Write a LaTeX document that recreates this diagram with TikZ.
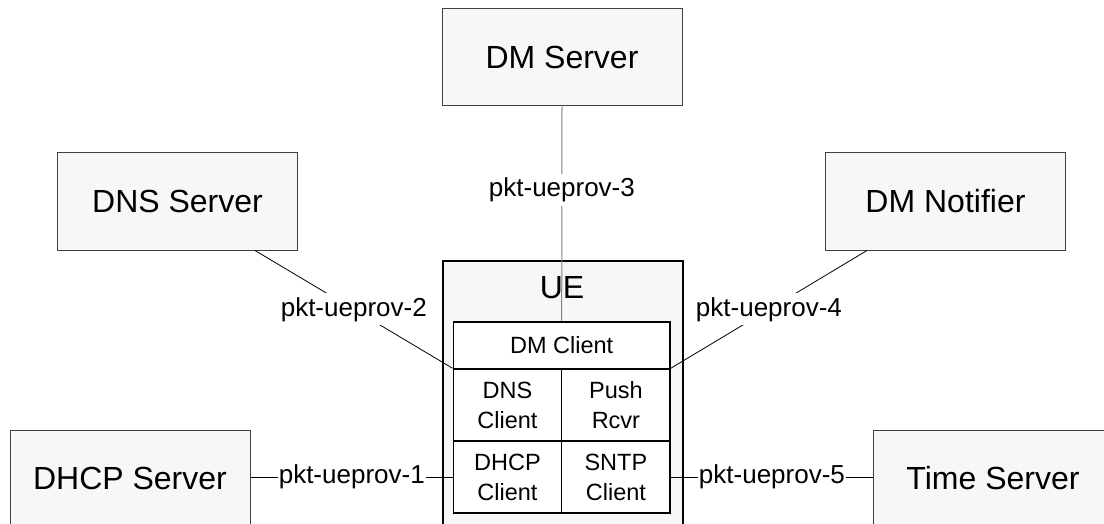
\documentclass[tikz,border=0pt]{standalone}
\usepackage{fontspec}
\setmainfont{Liberation Sans}
\definecolor{boxfill}{HTML}{F7F7F7}
\definecolor{boxline}{HTML}{404040}
\definecolor{vline}{HTML}{808080}
\begin{document}
\begin{tikzpicture}[x=1pt,y=-1pt,
  server/.style={draw=boxline,line width=1pt,fill=boxfill,minimum width=240pt,minimum height=97pt,inner sep=0pt,font=\fontsize{32}{38}\selectfont},
  uebox/.style={draw=black,line width=1.5pt,fill=boxfill,minimum width=240pt,minimum height=270pt,inner sep=0pt},
  part/.style={draw=black,line width=1.5pt,fill=white,inner sep=0pt,align=center,font=\fontsize{23.5}{30}\selectfont},
  link/.style={draw=black,line width=0.8pt},
  lbl/.style={fill=white,inner xsep=1pt,inner ysep=4pt,font=\fontsize{26}{30}\selectfont}]
\useasboundingbox (0,0) rectangle (1104,524);
\clip (0,0) rectangle (1104,524);
\fill[white] (0,0) rectangle (1104,524);
% servers
\node[server] (dms) at (562,57.5) {DM Server};
\node[server] (dnss) at (177.5,201.5) {DNS Server};
\node[server] (dmn) at (945.5,201.5) {DM Notifier};
\node[server,anchor=north west] (dhcps) at (10,430) {};
\node at (130,478.5) [font=\fontsize{32}{38}\selectfont] (dhcpst) {DHCP Server};
\node[server,anchor=north west] (times) at (873,430) {};
\node at (993,478.5) [font=\fontsize{32}{38}\selectfont] (timest) {Time Server};
% UE
\node[uebox,anchor=north west] (ue) at (442,260) {};
% inner parts
\node[part,minimum width=216.7pt,minimum height=47.3pt] (dmc) at (561.7,345.4) {DM Client};
\node[part,minimum width=108.4pt,minimum height=72pt] (dnsc) at (507.5,405) {DNS\\Client};
\node[part,minimum width=108.4pt,minimum height=72pt] (push) at (615.9,405) {Push\\Rcvr};
\node[part,minimum width=108.4pt,minimum height=72pt] (dhcpc) at (507.5,477) {DHCP\\Client};
\node[part,minimum width=108.4pt,minimum height=72pt] (sntp) at (615.9,477) {SNTP\\Client};
% connectors
\draw[draw=vline,line width=1pt] (dms.south) -- (dmc.north) node[lbl,pos=0.39,text=black] (l3) {pkt-ueprov-3};
\node[font=\fontsize{32}{38}\selectfont] (uet) at (562,288) {UE};
\draw[link] ([xshift=77.5pt]dnss.south) -- (dnsc.north west) node[lbl,midway] (l2) {pkt-ueprov-2};
\draw[link] ([xshift=-78.5pt]dmn.south) -- (push.north east) node[lbl,midway] (l4) {pkt-ueprov-4};
\draw[link] (dhcps.east |- dhcpc.west) -- (dhcpc.west) node[lbl,midway,inner ysep=1pt] (l1) {pkt-ueprov-1};
\draw[link] (sntp.east) -- (sntp.east -| times.west) node[lbl,midway,inner ysep=1pt] (l5) {pkt-ueprov-5};
\end{tikzpicture}
\end{document}
